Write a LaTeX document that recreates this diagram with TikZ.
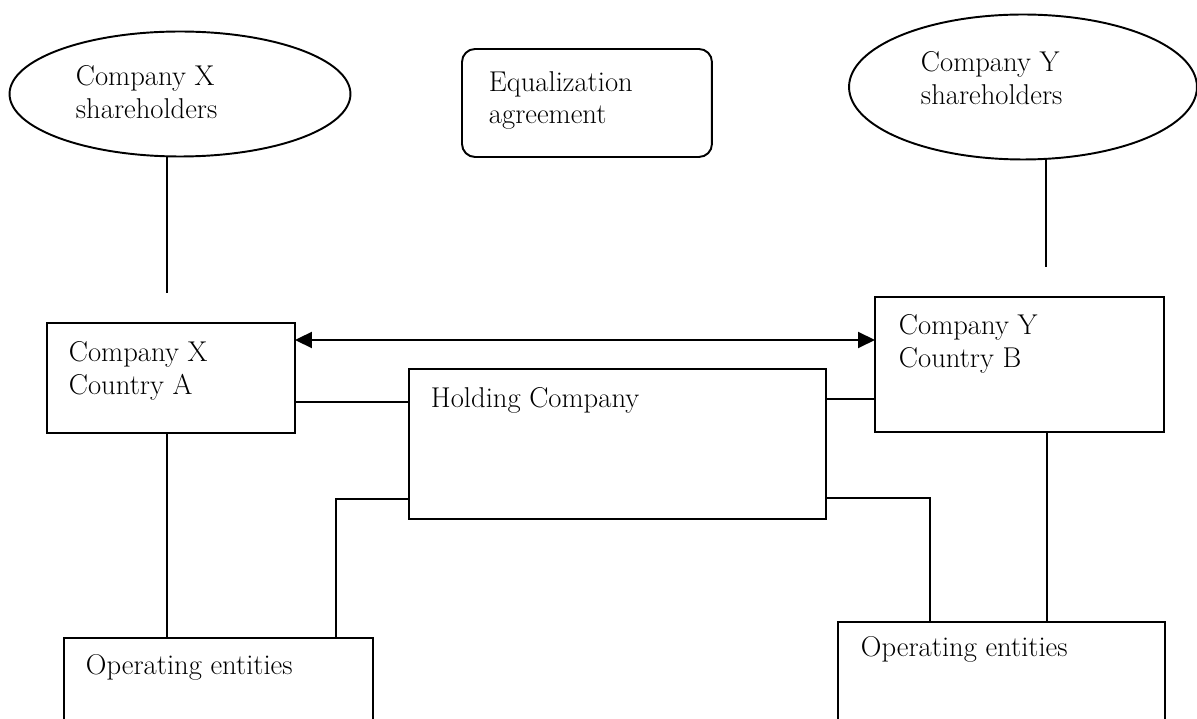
\documentclass[tikz,border=0pt]{standalone}
\usetikzlibrary{shapes.geometric,arrows.meta}
\begin{document}
\begin{tikzpicture}[x=0.02cm,y=-0.02cm,line width=1.1pt,
    box/.style={draw,rectangle,anchor=north west,outer sep=0pt,inner sep=0pt},
    oval/.style={draw,ellipse,outer sep=0pt,inner sep=0pt},
    lbl/.style={anchor=north west,inner sep=0pt,align=left,font=\fontsize{16.3}{18.3}\selectfont},
    tip/.style={{Triangle[length=0.34cm,width=0.32cm]}-{Triangle[length=0.34cm,width=0.32cm]}}]
  \useasboundingbox (0,0) rectangle (1197,719);
  \clip (0,0) rectangle (1197,719);
  % shareholders and agreement
  \node[oval,minimum width=6.82cm,minimum height=2.5cm] (xshare) at (180,94) {};
  \node[lbl] (xshare-t) at ([shift={(-105,-29)}]xshare.center) {Company X\\shareholders};
  \node[oval,minimum width=6.96cm,minimum height=2.9cm] (yshare) at (1023,87) {};
  \node[lbl] (yshare-t) at ([shift={(-103,-36)}]yshare.center) {Company Y\\shareholders};
  \node[box,rounded corners=0.26cm,minimum width=5cm,minimum height=2.16cm] (equal) at (462,49) {};
  \node[lbl] (equal-t) at ([shift={(26,22)}]equal.north west) {Equalization\\agreement};
  % companies
  \node[box,minimum width=4.96cm,minimum height=2.2cm] (compx) at (47,323) {};
  \node[lbl] (compx-t) at ([shift={(21,18)}]compx.north west) {Company X\\Country A};
  \node[box,minimum width=5.78cm,minimum height=2.7cm] (compy) at (875,297) {};
  \node[lbl] (compy-t) at ([shift={(23,17)}]compy.north west) {Company Y\\Country B};
  \node[box,minimum width=8.34cm,minimum height=3cm] (hold) at (409,369) {};
  \node[lbl] (hold-t) at ([shift={(21,18)}]hold.north west) {Holding Company};
  \node[box,minimum width=6.18cm,minimum height=2cm] (opx) at (64,638) {};
  \node[lbl] (opx-t) at ([shift={(21,16)}]opx.north west) {Operating entities};
  \node[box,minimum width=6.54cm,minimum height=2.4cm] (opy) at (838,622) {};
  \node[lbl] (opy-t) at ([shift={(22,14)}]opy.north west) {Operating entities};
  % links
  \draw ([xshift=-0.08cm]compx.north |- xshare.south) -- ([xshift=-0.08cm,yshift=0.6cm]compx.north);
  \draw ([xshift=0.53cm]compy.north |- yshare.south) -- ([xshift=0.53cm,yshift=0.6cm]compy.north);
  \draw[tip] ([yshift=-0.34cm]compx.north east) -- ([yshift=-0.34cm]compx.north east -| compy.west);
  \draw ([yshift=-0.66cm]hold.north west) -- ([yshift=-0.66cm]hold.north west -| compx.east);
  \draw ([yshift=-0.6cm]hold.north east) -- ([yshift=-0.6cm]hold.north east -| compy.west);
  \draw ([yshift=0.4cm]hold.south west) -| ([xshift=-0.74cm]opx.north east);
  \draw ([yshift=0.42cm]hold.south east) -| ([xshift=1.84cm]opy.north west);
  \draw ([xshift=-0.08cm]compx.south) -- ([xshift=-0.08cm]compx.south |- opx.north);
  \draw ([xshift=0.55cm]compy.south) -- ([xshift=0.55cm]compy.south |- opy.north);
\end{tikzpicture}
\end{document}
